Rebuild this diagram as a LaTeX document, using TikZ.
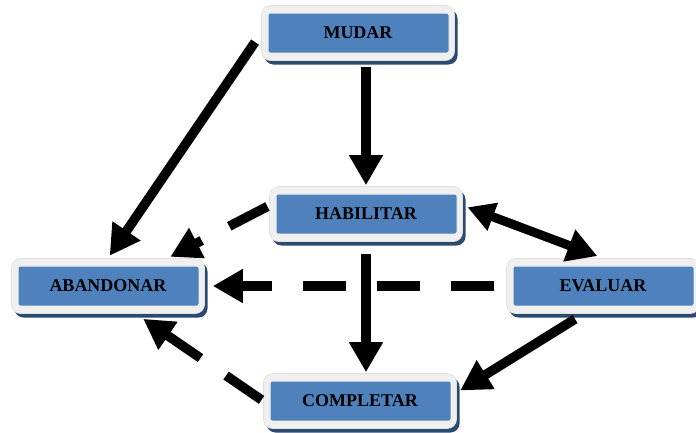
\documentclass[tikz,border=0pt]{standalone}
\usepackage{fontspec}
\setmainfont{Liberation Serif}
\usepackage{xcolor}
\usetikzlibrary{arrows.meta, shadows}
\definecolor{boxgray}{HTML}{EFEFEF}
\definecolor{boxblue}{HTML}{4F81BD}
\definecolor{shadowblue}{HTML}{2B4A70}
\tikzstyle{stage} = [rectangle, rounded corners=9pt, minimum width=193pt, minimum height=55pt, text centered, draw=white!88!black, line width=0.6pt, fill=boxgray, font=\fontsize{18}{20}\selectfont\bfseries, drop shadow={shadow xshift=3pt, shadow yshift=-4pt, fill=shadowblue, opacity=1}, path picture={\fill[boxblue, rounded corners=2pt] ([shift={(7pt,-8pt)}]path picture bounding box.north west) rectangle ([shift={(-6pt,8pt)}]path picture bounding box.south east);}]
\tikzstyle{arrow} = [line width=9.5pt, -{Triangle[length=30pt,width=32pt]}]
\tikzstyle{twoway} = [line width=9pt, {Triangle[length=27pt,width=28pt]}-{Triangle[length=30pt,width=32pt]}]
\tikzstyle{dasharrow} = [arrow, dash pattern=on 43pt off 31pt]

\begin{document}
\begin{tikzpicture}[x=1pt, y=-1pt]
        \useasboundingbox (0,0) rectangle (696,432);

        % Nodes
        \node (mudar) [stage] at (358,33) {MUDAR};
        \node (habilitar) [stage] at (366,214) {HABILITAR};
        \node (abandonar) [stage] at (108,286) {ABANDONAR};
        \node (evaluar) [stage] at (603,286) {EVALUAR};
        \node (completar) [stage] at (360,401) {COMPLETAR};

        % Arrows
        \draw [arrow, shorten <=11pt, shorten >=3pt] (mudar.west) -- (abandonar.north);
        \draw [arrow, shorten <=6pt, shorten >=1pt] (habilitar.north |- mudar.south) -- (habilitar.north);
        \draw [arrow, shorten <=12pt, shorten >=1pt] (habilitar.south) -- (habilitar.south |- completar.north);
        \draw [twoway, shorten <=5pt, shorten >=6pt] (habilitar.5) -- (evaluar.north);
        \draw [dasharrow, shorten <=12pt, shorten >=8pt] (evaluar.west) -- (abandonar.east);
        \draw [dasharrow, shorten <=2pt, shorten >=3pt] (habilitar.175) -- (abandonar.25);
        \draw [dasharrow, shorten <=2pt, shorten >=9pt] (completar.west) -- (abandonar.-45);
        \draw [arrow, shorten <=10pt, shorten >=4pt] (evaluar.-125) -- (completar.5);
\end{tikzpicture}
\end{document}
